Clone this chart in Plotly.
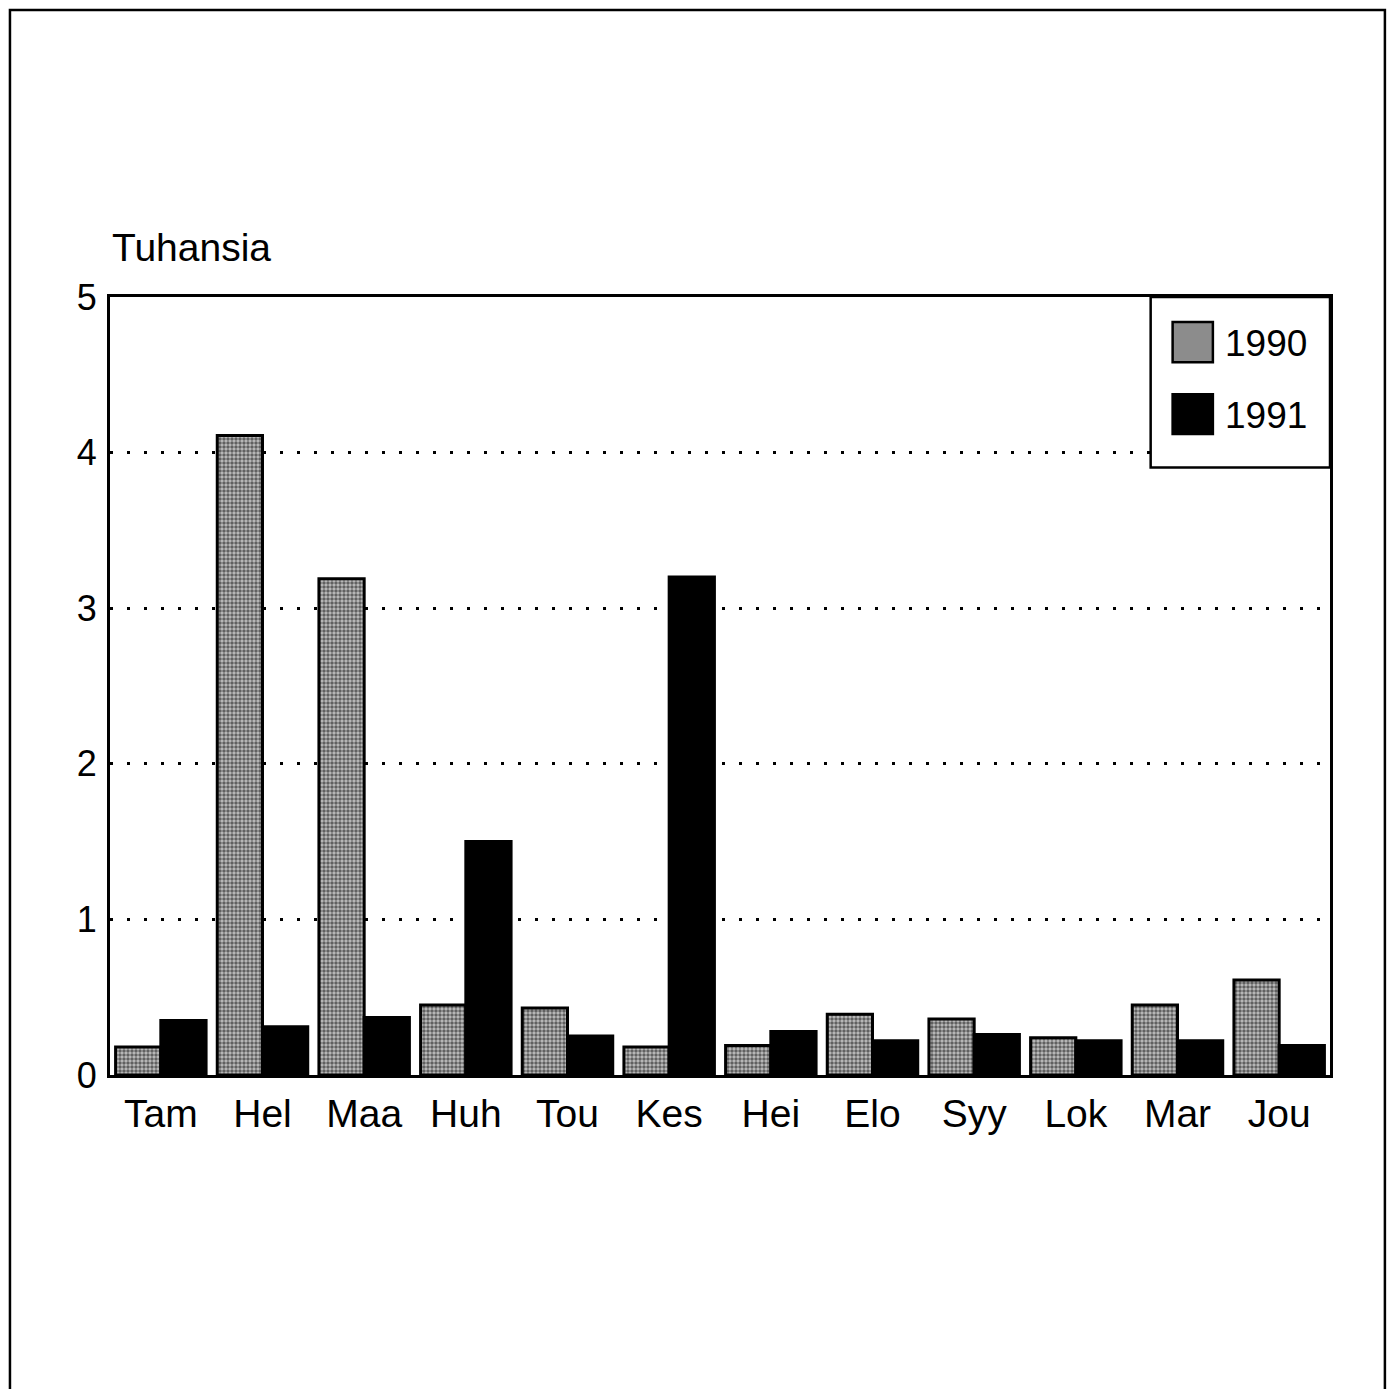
import plotly.graph_objects as go

months = ["Tam", "Hel", "Maa", "Huh", "Tou", "Kes", "Hei", "Elo", "Syy", "Lok", "Mar", "Jou"]
v1990 = [0.18, 4.11, 3.19, 0.45, 0.43, 0.18, 0.19, 0.39, 0.36, 0.24, 0.45, 0.61]
v1991 = [0.35, 0.31, 0.37, 1.50, 0.25, 3.20, 0.28, 0.22, 0.26, 0.22, 0.22, 0.19]
ytick_vals = [0, 1, 2, 3, 4, 5]
series_names = ["1990", "1991"]
y_title = "Tuhansia"

FONT = "Liberation Sans, Arial, Helvetica, sans-serif"

fig = go.Figure()
fig.add_trace(go.Bar(
    x=months, y=v1990, name=series_names[0],
    marker=dict(color="#a8a8a8",
                line=dict(color="black", width=3),
                pattern=dict(shape=".", fgcolor="black", bgcolor="#c0c0c0", size=4, solidity=0.6)),
    showlegend=False,
))
fig.add_trace(go.Bar(
    x=months, y=v1991, name=series_names[1],
    marker=dict(color="black", line=dict(color="black", width=3)),
    showlegend=False,
))

fig.update_layout(
    width=1391, height=1389,
    margin=dict(l=110, r=61, t=297, b=314),
    paper_bgcolor="white", plot_bgcolor="white",
    barmode="group", bargap=0.11, bargroupgap=0,
    font=dict(family=FONT, color="black"),
)
fig.update_xaxes(
    showline=True, mirror=True, linecolor="black", linewidth=3,
    showgrid=False, ticks="", tickfont=dict(size=39, family=FONT),
    ticklabelstandoff=2,
)
fig.update_yaxes(
    range=[0, 5], tickvals=ytick_vals, ticktext=[str(v) for v in ytick_vals],
    showline=True, mirror=True, linecolor="black", linewidth=3,
    showgrid=True, gridcolor="black", gridwidth=3, griddash="3px,14px",
    zeroline=False, ticks="", tickfont=dict(size=36, family=FONT),
    ticklabelstandoff=3,
)

# y-axis unit title
fig.add_annotation(xref="paper", yref="paper", x=0.0, y=1.064, text=y_title,
                   showarrow=False, xanchor="left", yanchor="middle",
                   font=dict(size=39, family=FONT))

# outer frame (left, top, right)
fig.add_shape(type="path", xref="paper", yref="paper",
              path="M -0.082,-0.42 L -0.082,1.369 L 1.045,1.369 L 1.045,-0.42",
              line=dict(color="black", width=2.5))

# legend box
fig.add_shape(type="rect", xref="paper", yref="paper", x0=0.853, x1=1.0, y0=0.781, y1=1.0,
              fillcolor="white", line=dict(color="black", width=2.5))
fig.add_shape(type="rect", xref="paper", yref="paper", x0=0.871, x1=0.904, y0=0.916, y1=0.968,
              fillcolor="#8c8c8c", line=dict(color="black", width=2.5))
fig.add_shape(type="rect", xref="paper", yref="paper", x0=0.871, x1=0.904, y0=0.824, y1=0.875,
              fillcolor="black", line=dict(color="black", width=2.5))
fig.add_annotation(xref="paper", yref="paper", x=0.912, y=0.940, text=series_names[0],
                   showarrow=False, xanchor="left", yanchor="middle", font=dict(size=37, family=FONT))
fig.add_annotation(xref="paper", yref="paper", x=0.912, y=0.848, text=series_names[1],
                   showarrow=False, xanchor="left", yanchor="middle", font=dict(size=37, family=FONT))

fig.write_html(
    "out.html",
    config={"displayModeBar": False},
    post_script="document.body.style.margin='0';document.body.style.overflow='hidden';",
)
